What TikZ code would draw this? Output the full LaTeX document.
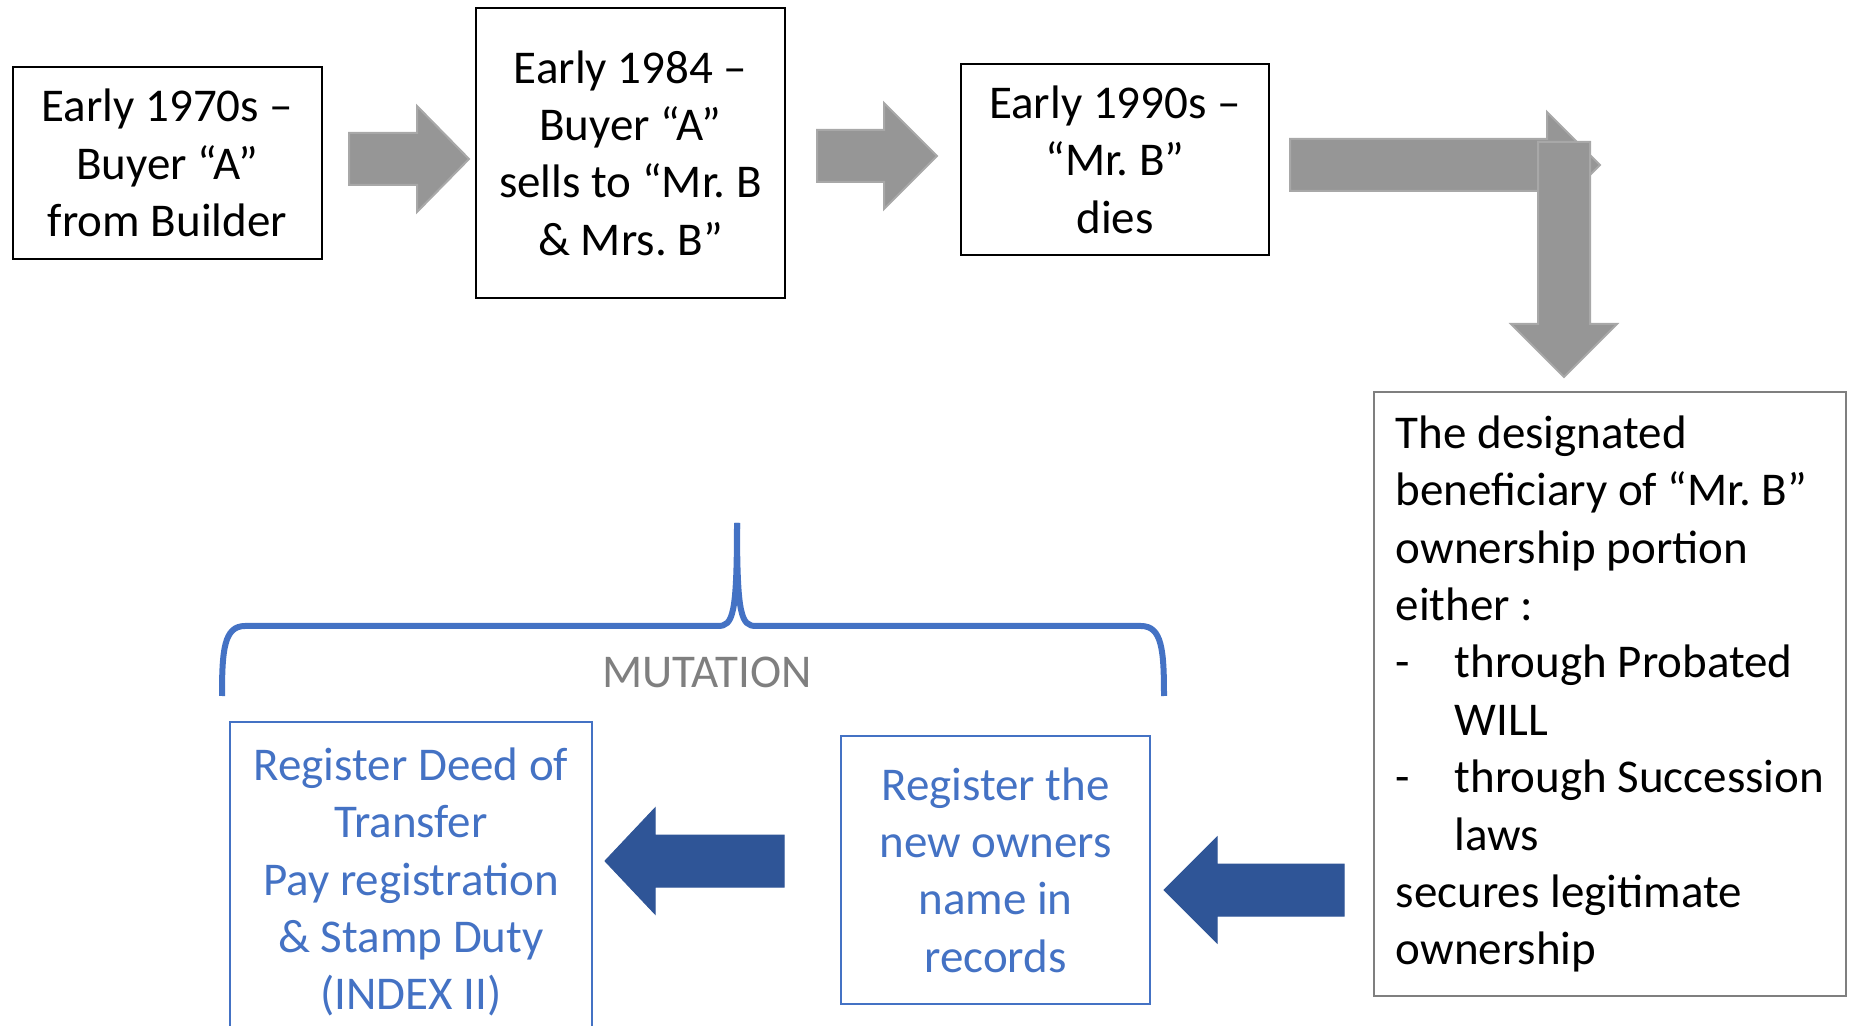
\documentclass[tikz,border=0pt]{standalone}
\usepackage{fontspec}
\setmainfont{Carlito}
\frenchspacing
\definecolor{arrowgray}{RGB}{150,150,150}
\definecolor{arrowedge}{RGB}{168,168,168}
\definecolor{mutblue}{RGB}{68,114,196}
\definecolor{darkarrow}{RGB}{47,85,151}
\definecolor{labelgray}{RGB}{127,127,127}
\begin{document}
\begin{tikzpicture}[x=0.5pt,y=-0.5pt,
  yearbox/.style={draw=black,line width=1.4pt,align=center,inner sep=0pt,font=\fontsize{23.5}{28.7}\selectfont},
  bluebox/.style={draw=mutblue,line width=1pt,text=mutblue,align=center,inner sep=0pt,font=\fontsize{23.5}{28.7}\selectfont},
  grayarrow/.style={fill=arrowgray,draw=arrowedge,line width=1pt},
  bluearrow/.style={fill=darkarrow,draw=darkarrow,line width=0.5pt},
  bracestroke/.style={draw=mutblue,line width=3pt,line cap=butt}]%
\useasboundingbox (0,0) rectangle (1849,1026);%
%
% the three dated boxes
\node[yearbox,minimum width=154.5pt,minimum height=96pt] (early70) at (167.5,163) {Early 1970s –\\Buyer “A”\\from Builder};%
\node[yearbox,minimum width=154.5pt,minimum height=145pt] (early84) at (630.5,153) {Early 1984 –\\Buyer “A”\\sells to “Mr. B\\\& Mrs. B”};%
\node[yearbox,minimum width=154pt,minimum height=95.5pt] (early90) at (1115,159.5) {Early 1990s –\\“Mr. B”\\dies};%
%
\node[draw=labelgray,line width=1.2pt,align=left,inner sep=0pt,minimum width=236pt,minimum height=302pt,font=\fontsize{23.5}{28.7}\selectfont] (beneficiary) at (1610,694) {The designated\\beneficiary of “Mr. B”\\ownership portion\\either :\\\makebox[29.5pt][l]{-}through Probated\\\hspace*{29.5pt}WILL\\\makebox[29.5pt][l]{-}through Succession\\\hspace*{29.5pt}laws\\secures legitimate\\ownership};%
%
\node[bluebox,minimum width=154.5pt,minimum height=134pt] (newowners) at (995.5,870) {Register the\\new owners\\name in\\records};%
\node[bluebox,minimum width=181pt,minimum height=160pt] (deed) at (411,882) {Register Deed of\\Transfer\\Pay registration\\\& Stamp Duty\\(INDEX II)};%
%
% gray block arrows
\def\sw{26};%
\def\hw{53};%
\def\xa{349};%
\def\xb{417};%
\def\xc{469};%
\def\yc{159};%
\coordinate (arr1 tail) at (\xa,\yc);%
\coordinate (arr1 tip) at (\xc,\yc);%
\filldraw[grayarrow] (arr1 tail) -- ++(0,-\sw) -- (\xb,\yc-\sw) -- (\xb,\yc-\hw) -- (arr1 tip) -- (\xb,\yc+\hw) -- (\xb,\yc+\sw) -- (\xa,\yc+\sw) -- cycle;%
%
\def\xa{817};%
\def\xb{884};%
\def\xc{937};%
\def\yc{156};%
\coordinate (arr2 tail) at (\xa,\yc);%
\coordinate (arr2 tip) at (\xc,\yc);%
\filldraw[grayarrow] (arr2 tail) -- ++(0,-\sw) -- (\xb,\yc-\sw) -- (\xb,\yc-\hw) -- (arr2 tip) -- (\xb,\yc+\hw) -- (\xb,\yc+\sw) -- (\xa,\yc+\sw) -- cycle;%
%
\def\xa{1290};%
\def\xb{1547};%
\def\xc{1600};%
\def\yc{165};%
\coordinate (arr3 tail) at (\xa,\yc);%
\coordinate (arr3 tip) at (\xc,\yc);%
\filldraw[grayarrow] (arr3 tail) -- ++(0,-\sw) -- (\xb,\yc-\sw) -- (\xb,\yc-\hw) -- (arr3 tip) -- (\xb,\yc+\hw) -- (\xb,\yc+\sw) -- (\xa,\yc+\sw) -- cycle;%
%
\def\xc{1564};%
\def\ya{142};%
\def\yb{324};%
\coordinate (arr4 tail) at (\xc,\ya);%
\coordinate (arr4 tip) at (\xc,377);%
\filldraw[grayarrow] (arr4 tail) -- ++(-\sw,0) -- (\xc-\sw,\yb) -- (\xc-\hw,\yb) -- (arr4 tip) -- (\xc+\hw,\yb) -- (\xc+\sw,\yb) -- (\xc+\sw,\ya) -- cycle;%
%
% blue block arrows
\def\xa{784};%
\def\xb{655};%
\def\xc{605};%
\def\yc{861};%
\coordinate (arr5 tail) at (\xa,\yc);%
\coordinate (arr5 tip) at (\xc,\yc);%
\filldraw[bluearrow] (arr5 tail) -- ++(0,-\sw) -- (\xb,\yc-\sw) -- (\xb,\yc-\hw) -- (arr5 tip) -- (\xb,\yc+\hw) -- (\xb,\yc+\sw) -- (\xa,\yc+\sw) -- cycle;%
%
\def\xa{1344};%
\def\xb{1217};%
\def\xc{1164};%
\def\yc{890};%
\coordinate (arr6 tail) at (\xa,\yc);%
\coordinate (arr6 tip) at (\xc,\yc);%
\filldraw[bluearrow] (arr6 tail) -- ++(0,-\sw) -- (\xb,\yc-\sw) -- (\xb,\yc-\hw) -- (arr6 tip) -- (\xb,\yc+\hw) -- (\xb,\yc+\sw) -- (\xa,\yc+\sw) -- cycle;%
%
% the mutation brace
\coordinate (cusp) at (737,523);%
\draw[bracestroke] (222,696) .. controls (222,650) and (224,626) .. (245,626) -- (718,626) .. controls (733,626) and (737,615) .. (cusp);%
\draw[bracestroke] (1164,696) .. controls (1164,650) and (1162,626) .. (1141,626) -- (756,626) .. controls (741,626) and (737,615) .. (cusp);%
\node[text=labelgray,font=\fontsize{23.5}{28}\selectfont,inner sep=0pt] (mutation) at (707,672) {MUTATION};%
\end{tikzpicture}
\end{document}
